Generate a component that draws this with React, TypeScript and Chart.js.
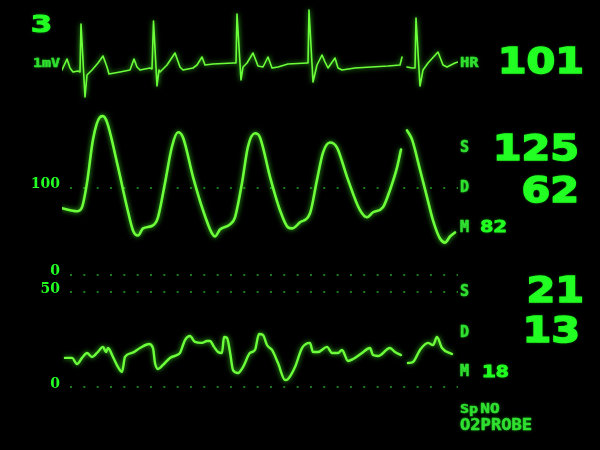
import React, { useEffect, useRef } from "react";
import { Chart, registerables } from "chart.js";

Chart.register(...registerables);

// ---- time axis (ms of sweep) ----
const sweepStart = 0;
const sweepEnd = 7920;

// ---- ECG lead (mV) ----
const ecgTime = [0,100,160,220,320,360,380,460,500,600,720,820,900,940,1160,1360,1440,1500,1560,1760,1800,1830,1900,1940,1960,2100,2260,2360,2420,2620,2700,2800,2860,3020,3420,3480,3500,3580,3620,3700,3820,3920,4020,4120,4200,4320,4520,4900,4920,4940,5020,5100,5200,5260,5320,5460,5520,5600,5860,6520,6760,6800,6840,6900,7000,7060,7080,7160,7220,7320,7520,7620,7700,7860,7920];
const ecgMv = [-0.15,0.125,-0.1,-0.2,-0.175,-0.2,1.0,-0.825,-0.275,-0.15,0.025,0.2,-0.075,-0.25,-0.2,-0.15,0.125,-0.075,-0.15,-0.1,-0.125,1.075,-0.55,-0.15,-0.2,-0.025,0.275,-0.075,-0.15,-0.1,-0.025,0.175,-0.025,0,0.025,0.025,1.25,-0.4,-0.075,0.025,0.275,-0.05,-0.075,0.175,-0.1,-0.075,0,0.025,0.025,1.35,-0.45,-0.025,0.225,0.05,-0.1,0.15,-0.1,-0.15,-0.1,-0.05,-0.025,0.175,null,-0.075,-0.1,-0.1,1.15,-0.55,-0.15,0.025,0.3,-0.025,-0.075,0.025,0.05];

// ---- arterial pressure (mmHg) ----
const abpTime = [0,300,400,500,620,760,820,900,1100,1300,1420,1520,1620,1820,1920,2060,2200,2320,2420,2620,2820,3000,3060,3160,3360,3460,3600,3720,3860,3960,4160,4360,4520,4600,4760,4960,5100,5220,5360,5500,5700,5960,6100,6220,6420,6560,6700,6780,6840,6900,7000,7160,7300,7420,7560,7660,7760,7860];
const abpMmHg = [76.7,73.3,77.9,105.8,155.8,181.4,182.6,175.6,129.1,77.9,51.2,45.3,53.5,57.0,66.3,105.8,147.7,164.0,158.1,112.8,74.4,47.7,44.2,52.3,58.1,66.3,105.8,147.7,162.8,158.1,112.8,74.4,54.7,53.5,60.5,70.9,109.3,140.7,152.3,146.5,112.8,74.4,66.3,72.1,77.9,97.7,123.3,144.2,null,166.3,155.8,120.9,89.5,62.8,41.9,37.2,44.2,48.8];
const abpTicks = [100, 0];

// ---- pulmonary pressure (mmHg) ----
const papTime = [60,200,300,400,500,600,700,820,880,920,1020,1120,1200,1260,1400,1560,1740,1820,1860,1920,2020,2160,2300,2360,2460,2560,2660,2800,2900,2960,3040,3120,3200,3240,3300,3360,3420,3520,3620,3760,3860,3940,4020,4100,4200,4320,4460,4520,4660,4800,4960,5020,5120,5300,5400,5520,5600,5720,5820,6000,6160,6220,6320,6560,6660,6780,6840,6920,7020,7160,7320,7420,7500,7600,7800];
const papMmHg = [15.3,15.3,12.1,15.3,17.9,15.8,17.9,21.1,18.4,20.5,15.8,10.5,7.9,15.8,17.9,20.5,22.6,20.5,12.6,9.5,11.6,15.3,16.8,17.9,24.7,26.8,23.7,23.2,24.2,24.2,21.1,18.4,17.9,26.3,25.8,18.4,8.9,7.4,10.5,17.9,19.5,27.9,27.4,22.1,19.5,12.6,3.7,4.2,10.5,20.5,23.2,18.4,18.4,21.1,17.9,17.9,19.5,13.7,14.7,17.9,20.5,16.8,16.3,20.5,18.4,16.8,null,12.6,13.2,19.5,23.2,22.1,26.3,20.5,17.4];
const papTicks = [50, 0];

// ---- numeric readouts ----
const leadLabel = "3";
const gainLabel = "1mV";
const hrLabel = "HR";
const hrValue = "101";
const abpSys = "125";
const abpDia = "62";
const abpMean = "82";
const papSys = "21";
const papDia = "13";
const papMean = "18";

const MONO = "'DejaVu Sans Mono', monospace";
const DIGITS = "'DejaVu Sans', sans-serif";
const TICKFONT = "'DejaVu Serif', serif";
const TRACE = "#6cff3a";
const TEXT = "#22ff22";
const LABEL = "#30e030";
const DOTS = "#1c7a1c";

const glow = {
  id: "glow",
  beforeDatasetsDraw(chart: any) {
    const c = chart.ctx;
    c.save();
    c.shadowColor = "rgba(70,255,40,0.8)";
    c.shadowBlur = 5;
  },
  afterDatasetsDraw(chart: any) {
    chart.ctx.restore();
  },
};

type WaveProps = {
  top: number;
  height: number;
  times: number[];
  values: (number | null)[];
  yMin: number;
  yMax: number;
  tickValues: number[];
  labelOffset: number;
  lineWidth: number;
  smooth: boolean;
};

function Wave(p: WaveProps) {
  const ref = useRef<HTMLCanvasElement>(null);
  useEffect(() => {
    const showAxis = p.tickValues.length > 0;
    const yScale: any = showAxis
      ? {
          min: p.yMin,
          max: p.yMax,
          position: "left",
          afterBuildTicks: (s: any) => {
            s.ticks = p.tickValues.map((v) => ({ value: v }));
          },
          afterFit: (s: any) => {
            s.width = 62;
            s.paddingTop = 0;
            s.paddingBottom = 0;
          },
          ticks: {
            color: TEXT,
            font: { family: TICKFONT, size: 14, weight: "bold" },
            padding: 2,
            labelOffset: p.labelOffset,
            autoSkip: false,
          },
          grid: { color: DOTS, lineWidth: 2, drawTicks: false, drawOnChartArea: true },
          border: { display: false, dash: [2, 11.33], dashOffset: -8 },
        }
      : { display: false, min: p.yMin, max: p.yMax };
    const chart = new Chart(ref.current as HTMLCanvasElement, {
      type: "line",
      data: {
        datasets: [
          {
            data: p.times.map((t, i) => ({ x: t, y: p.values[i] as any })),
            borderColor: TRACE,
            borderWidth: p.lineWidth,
            pointRadius: 0,
            fill: false,
            spanGaps: false,
            tension: p.smooth ? 0.4 : 0,
            cubicInterpolationMode: p.smooth ? "monotone" : "default",
            borderJoinStyle: "round",
            borderCapStyle: "round",
          } as any,
        ],
      },
      options: {
        responsive: false,
        animation: false,
        events: [],
        layout: { padding: { left: showAxis ? 0 : 62, right: 142, top: 0, bottom: 0 } },
        plugins: { legend: { display: false }, tooltip: { enabled: false } },
        scales: {
          x: { type: "linear", display: false, min: sweepStart, max: sweepEnd },
          y: yScale,
        },
      } as any,
      plugins: [glow],
    });
    return () => chart.destroy();
  }, []);
  return (
    <canvas
      ref={ref}
      width={600}
      height={p.height}
      style={{ position: "absolute", left: 0, top: p.top, width: 600, height: p.height }}
    />
  );
}

function T(props: {
  text: React.ReactNode;
  left?: number;
  right?: number;
  top: number;
  size: number;
  sx?: number;
  color?: string;
  stroke?: number;
  font?: string;
}) {
  const col = props.color || LABEL;
  const style: any = {
    position: "absolute",
    top: props.top,
    fontFamily: props.font || MONO,
    fontWeight: "bold",
    fontSize: props.size,
    lineHeight: props.size + "px",
    color: col,
    whiteSpace: "nowrap",
    textShadow: "0 0 3px rgba(40,255,40,0.6)",
    transform: `scaleX(${props.sx || 1})`,
    transformOrigin: props.right !== undefined ? "right" : "left",
    WebkitTextStroke: `${props.stroke ?? 0.5}px ${col}`,
  };
  if (props.right !== undefined) style.right = 600 - props.right;
  else style.left = props.left;
  return <div style={style}>{props.text}</div>;
}

export default function App() {
  useEffect(() => {
    document.body.style.margin = "0";
    document.body.style.background = "#000";
  }, []);
  return (
    <div
      style={{
        position: "fixed",
        left: 0,
        top: 0,
        width: 600,
        height: 450,
        background: "#000",
        overflow: "hidden",
      }}
    >
      <Wave top={0} height={110} times={ecgTime} values={ecgMv} yMin={-1.15} yMax={1.6} tickValues={[]} labelOffset={0} lineWidth={1.6} smooth={false} />
      <Wave top={100} height={180} times={abpTime} values={abpMmHg} yMin={-5.8} yMax={201.1} tickValues={abpTicks} labelOffset={-4} lineWidth={2.6} smooth={true} />
      <Wave top={280} height={120} times={papTime} values={papMmHg} yMin={-6.84} yMax={56.3} tickValues={papTicks} labelOffset={-3} lineWidth={2.4} smooth={true} />

      <T text={leadLabel} left={31} top={13} size={23} sx={1.5} color={TEXT} stroke={1.2} />
      <T text={gainLabel} left={33} top={56} size={13} sx={1.15} />
      <T text={hrLabel} left={460} top={55} size={14} sx={1.1} />
      <T text={hrValue} right={584} top={42.5} size={36} sx={1.15} color={TEXT} stroke={1.5} font={DIGITS} />

      <T text="S" left={460} top={140} size={15} />
      <T text="D" left={460} top={180} size={15} />
      <T text="M" left={460} top={220} size={15} />
      <T text={abpMean} left={480} top={220} size={15} sx={1.5} color={TEXT} stroke={0.8} />
      <T text={abpSys} right={579} top={129.5} size={36} sx={1.15} color={TEXT} stroke={1.5} font={DIGITS} />
      <T text={abpDia} right={579} top={171.5} size={36} sx={1.15} color={TEXT} stroke={1.5} font={DIGITS} />

      <T text="S" left={460} top={284} size={15} />
      <T text="D" left={460} top={325} size={15} />
      <T text="M" left={460} top={364} size={15} />
      <T text={papMean} left={482} top={365} size={15} sx={1.5} color={TEXT} stroke={0.8} />
      <T text={papSys} right={584} top={271.5} size={36} sx={1.15} color={TEXT} stroke={1.5} font={DIGITS} />
      <T text={papDia} right={580} top={311.5} size={36} sx={1.15} color={TEXT} stroke={1.5} font={DIGITS} />

      <T text={<><span style={{ fontSize: 13 }}>Sp</span><span style={{ marginLeft: 2 }}>NO</span></>} left={460} top={401} size={14} sx={1.15} />
      <T text="O2PROBE" left={460} top={418} size={15} sx={1.14} />
    </div>
  );
}
